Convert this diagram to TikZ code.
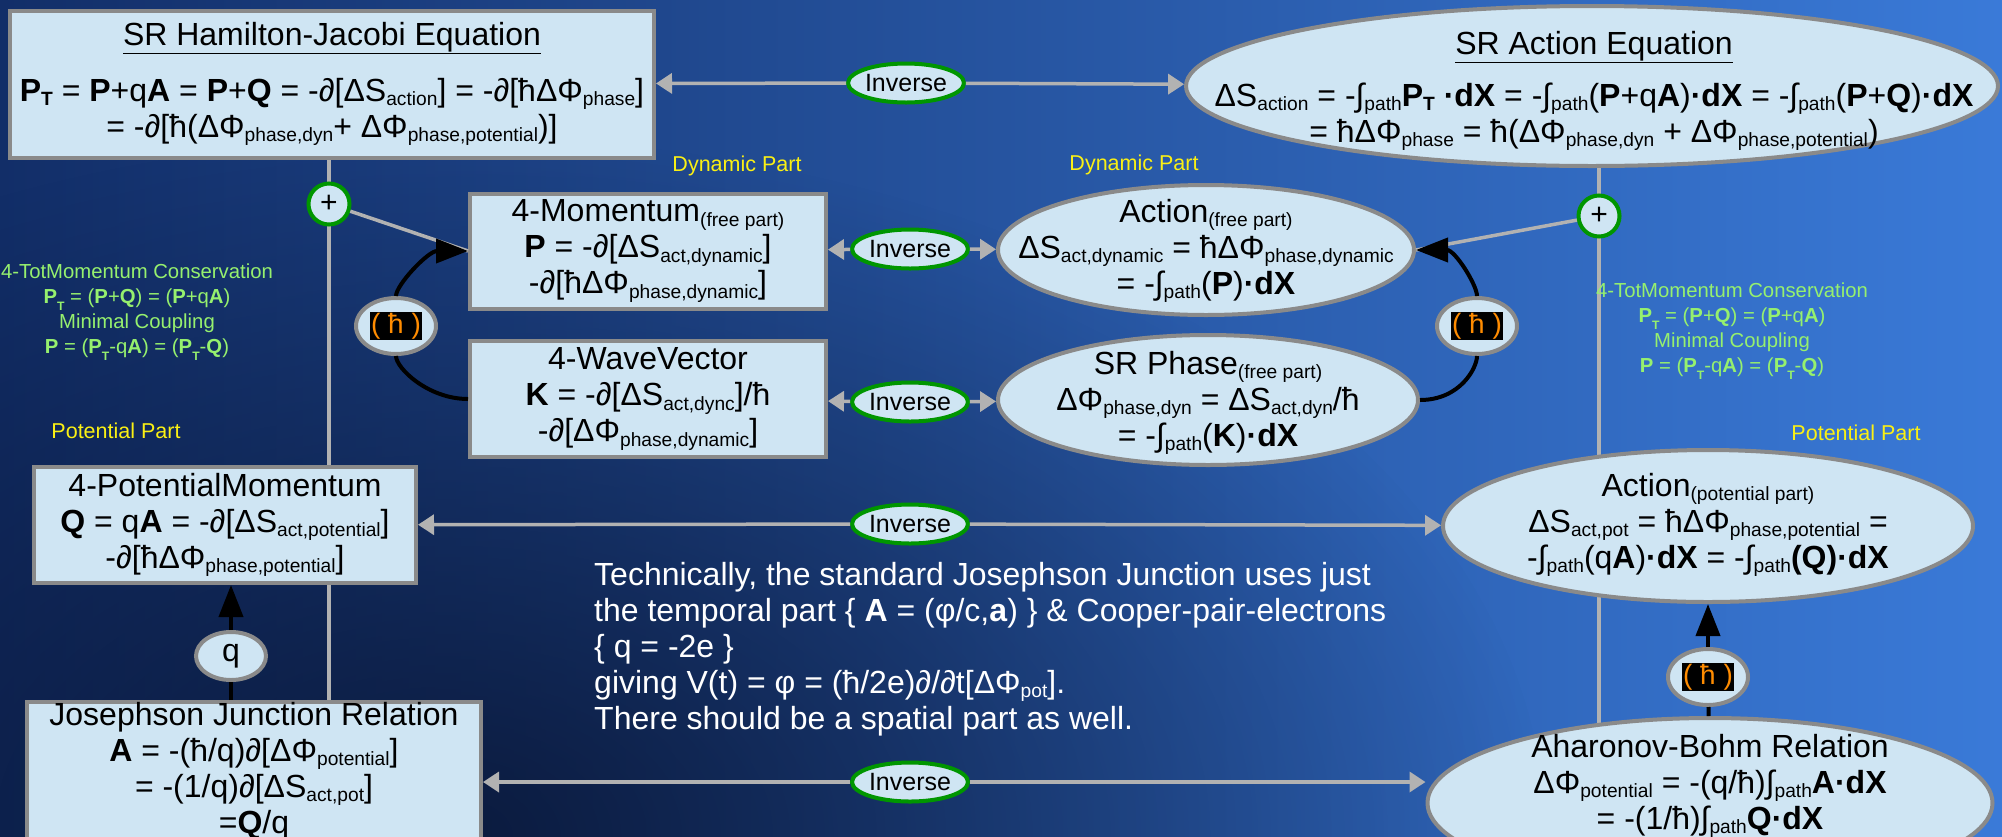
\documentclass[tikz,border=0pt]{standalone}
\usepackage{fontspec}
\usepackage{graphicx}
\setmainfont{Liberation Sans}
\usetikzlibrary{shapes.geometric, arrows.meta, fadings}

\definecolor{boxfill}{RGB}{207,229,243}
\definecolor{boxgray}{RGB}{138,138,138}
\definecolor{linkgray}{RGB}{178,178,178}
\definecolor{invgreen}{RGB}{0,150,0}
\definecolor{partyellow}{RGB}{250,240,20}
\definecolor{lawgreen}{RGB}{150,240,110}
\definecolor{hbarorange}{RGB}{255,140,0}
\definecolor{bgdark}{RGB}{8,20,50}
\definecolor{bgleft}{RGB}{18,46,104}
\definecolor{bgmid}{RGB}{28,72,158}
\definecolor{bgright}{RGB}{58,122,216}

\newcommand{\eqfont}{\fontsize{32}{36}\selectfont}
\newcommand{\sbs}[1]{\raisebox{-0.13em}{\scalebox{0.6}{#1}}}
\newcommand{\lowT}{\raisebox{-0.35em}{\scalebox{0.6}{T}}}
\setlength{\fboxsep}{1pt}

\tikzfading[name=darkspot, inner color=transparent!0, outer color=transparent!100]

\pgfdeclarelayer{bg}
\pgfsetlayers{bg,main}

\tikzset{
  eqbox/.style={draw=boxgray, line width=4pt, fill=boxfill, align=center, inner sep=0pt, font=\eqfont},
  eqoval/.style={ellipse, draw=boxgray, line width=4pt, fill=boxfill, inner sep=0pt},
  eqtext/.style={align=center, inner sep=0pt, font=\eqfont},
  invnode/.style={ellipse, draw=invgreen, line width=4pt, fill=boxfill, inner sep=0pt, minimum width=111pt, minimum height=39pt, font=\fontsize{25}{28}\selectfont},
  plusnode/.style={circle, draw=invgreen, line width=4pt, fill=boxfill, inner sep=0pt, minimum size=41pt, font=\fontsize{30}{30}\selectfont},
  hbarnode/.style={ellipse, draw=boxgray, line width=4pt, fill=boxfill, inner sep=0pt, minimum width=80pt, minimum height=56pt, font=\fontsize{28}{30}\selectfont},
  partlabel/.style={text=partyellow, inner sep=0pt, font=\fontsize{21.5}{24}\selectfont},
  lawtext/.style={text=lawgreen, align=center, inner sep=0pt, font=\fontsize{20.3}{25}\selectfont},
  link/.style={draw=linkgray, line width=3.5pt},
  linkarrow/.style={link, -{Triangle[length=16pt, width=20pt]}},
  hbarline/.style={draw=black, line width=4pt},
  hbararrow/.style={hbarline, -{Triangle[length=32pt, width=24pt]}},
}

\begin{document}
\begin{tikzpicture}[x=1pt, y=-1pt]
    % 画布大小
    \useasboundingbox (0,0) rectangle (2002,836);
    \clip (0,0) rectangle (2002,836);

    % 上排：两个总方程
    \node[eqbox, minimum width=644pt, minimum height=147pt] (hj) at (332, 84)
        {\underline{SR Hamilton-Jacobi Equation}\\[20pt]
         \textbf{P\sbs{T}} = \textbf{P}+q\textbf{A} = \textbf{P}+\textbf{Q} = -∂[ΔS\sbs{action}] = -∂[ħΔΦ\sbs{phase}]\\
         = -∂[ħ(ΔΦ\sbs{phase,dyn}+ ΔΦ\sbs{phase,potential})]};
    \node[eqoval, minimum width=812pt, minimum height=160pt] (sra) at (1592, 86) {};
    \node[eqtext] (sratext) at (1594, 91)
        {\underline{SR Action Equation}\\[16pt]
         ΔS\sbs{action} = -∫\sbs{path}\textbf{P\sbs{T} ·dX} = -∫\sbs{path}(\textbf{P}+q\textbf{A})\textbf{·dX} = -∫\sbs{path}(\textbf{P}+\textbf{Q})\textbf{·dX}\\
         = ħΔΦ\sbs{phase} = ħ(ΔΦ\sbs{phase,dyn} + ΔΦ\sbs{phase,potential})};
    \node[invnode] (inv1) at (906, 83) {Inverse};

    % 动力学部分
    \node[partlabel] (dynL) at (737, 166) {Dynamic Part};
    \node[partlabel] (dynR) at (1134, 165) {Dynamic Part};
    \node[eqbox, minimum width=356pt, minimum height=115pt] (mom) at (648, 251)
        {4-Momentum\sbs{(free part)}\\
         \textbf{P} = -∂[ΔS\sbs{act,dynamic}]\\
         -∂[ħΔΦ\sbs{phase,dynamic}]};
    \node[eqbox, minimum width=356pt, minimum height=116pt] (wav) at (648, 399)
        {4-WaveVector\\
         \textbf{K} = -∂[ΔS\sbs{act,dync}]/ħ\\
         -∂[ΔΦ\sbs{phase,dynamic}]};
    \node[eqoval, minimum width=416pt, minimum height=130pt] (actf) at (1206, 250) {};
    \node[eqtext] (actftext) at (1206, 251)
        {Action\sbs{(free part)}\\
         ΔS\sbs{act,dynamic} = ħΔΦ\sbs{phase,dynamic}\\
         = -∫\sbs{path}(\textbf{P})\textbf{·dX}};
    \node[eqoval, minimum width=420pt, minimum height=130pt] (phs) at (1208, 400) {};
    \node[eqtext] (phstext) at (1208, 403)
        {SR Phase\sbs{(free part)}\\
         ΔΦ\sbs{phase,dyn} = ΔS\sbs{act,dyn}/ħ\\
         = -∫\sbs{path}(\textbf{K})\textbf{·dX}};
    \node[invnode] (inv2) at (910, 249) {Inverse};
    \node[invnode] (inv3) at (910, 402) {Inverse};

    % 加号与 hbar
    \node[plusnode] (plusL) at (329, 204) {+};
    \node[plusnode] (plusR) at (1599, 216) {+};
    \node[hbarnode] (hbarL) at (396, 326) {\colorbox{black}{\color{hbarorange}( ħ )}};
    \node[hbarnode] (hbarR) at (1477, 326) {\colorbox{black}{\color{hbarorange}( ħ )}};

    % 守恒律说明
    \node[lawtext] (lawL) at (137, 312)
        {4-TotMomentum Conservation\\
         \textbf{P\lowT} = (\textbf{P}+\textbf{Q}) = (\textbf{P}+q\textbf{A})\\
         Minimal Coupling\\
         \textbf{P} = (\textbf{P\lowT}-q\textbf{A}) = (\textbf{P\lowT}-\textbf{Q})};
    \node[lawtext] (lawR) at (1732, 331)
        {4-TotMomentum Conservation\\
         \textbf{P\lowT} = (\textbf{P}+\textbf{Q}) = (\textbf{P}+q\textbf{A})\\
         Minimal Coupling\\
         \textbf{P} = (\textbf{P\lowT}-q\textbf{A}) = (\textbf{P\lowT}-\textbf{Q})};

    % 势部分
    \node[partlabel] (potL) at (116, 431) {Potential Part};
    \node[partlabel] (potR) at (1856, 433) {Potential Part};
    \node[eqbox, minimum width=382pt, minimum height=116pt] (potm) at (225, 525)
        {4-PotentialMomentum\\
         \textbf{Q} = q\textbf{A} = -∂[ΔS\sbs{act,potential}]\\
         -∂[ħΔΦ\sbs{phase,potential}]};
    \node[eqoval, minimum width=530pt, minimum height=152pt] (actp) at (1708, 526) {};
    \node[eqtext] (actptext) at (1708, 525)
        {Action\sbs{(potential part)}\\
         ΔS\sbs{act,pot} = ħΔΦ\sbs{phase,potential} =\\
         -∫\sbs{path}(q\textbf{A})\textbf{·dX} = -∫\sbs{path}\textbf{(Q)·dX}};
    \node[invnode] (inv4) at (910, 524) {Inverse};
    \node[eqoval, minimum width=70pt, minimum height=48pt, font=\eqfont] (qnode) at (231, 656) {q};
    \node[hbarnode] (hbarB) at (1708, 677) {\colorbox{black}{\color{hbarorange}( ħ )}};

    % 底排：两个关系式
    \node[eqbox, minimum width=454pt, anchor=north] (jj) at (254, 700)
        {Josephson Junction Relation\\
         \textbf{A} = -(ħ/q)∂[ΔΦ\sbs{potential}]\\
         = -(1/q)∂[ΔS\sbs{act,pot}]\\
         =\textbf{Q}/q};
    \node[eqoval, minimum width=565pt, minimum height=170pt] (ab) at (1710, 803) {};
    \node[eqtext] (abtext) at (1710, 786)
        {Aharonov-Bohm Relation\\
         ΔΦ\sbs{potential} = -(q/ħ)∫\sbs{path}\textbf{A·dX}\\
         = -(1/ħ)∫\sbs{path}\textbf{Q·dX}};
    \node[invnode] (inv5) at (910, 782) {Inverse};

    % 说明文字
    \node[eqtext, text=white, align=left, anchor=north west] (note) at (594, 562)
        {Technically, the standard Josephson Junction uses just\\
         the temporal part \{ \textbf{A} = (φ/c,\textbf{a}) \} \& Cooper-pair-electrons\\
         \{ q = -2e \}\\
         giving V(t) = φ = (ħ/2e)∂/∂t[ΔΦ\sbs{pot}].\\
         There should be a spatial part as well.};

    % 背景与竖线
    \begin{pgfonlayer}{bg}
        \shade[left color=bgleft, middle color=bgmid, right color=bgright] (0,0) rectangle (2002,836);
        \fill[bgdark, path fading=darkspot, fill opacity=0.85] (450,836) ellipse [x radius=1100, y radius=700];
        \draw[link] (plusL |- hj.center) -- (plusL |- jj.center);
        \draw[link] (plusR |- sra.center) -- (plusR |- ab.center);
    \end{pgfonlayer}

    % 灰色连线
    \draw[link] (plusL) -- (mom.west);
    \draw[link] (plusR) -- (actf.east);
    \draw[linkarrow] (inv1) -- (hj);
    \draw[linkarrow] (inv1) -- (sra);
    \draw[linkarrow] (inv2) -- (mom);
    \draw[linkarrow] (inv2) -- (actf);
    \draw[linkarrow] (inv3) -- (wav);
    \draw[linkarrow] (inv3) -- (phs);
    \draw[linkarrow] (inv4) -- (potm);
    \draw[linkarrow] (inv4) -- (actp);
    \draw[linkarrow] (inv5) -- (inv5 -| jj.east);
    \draw[linkarrow] (inv5) -- (inv5 -| ab.west);

    % 黑色箭头
    \draw[hbarline] (wav.west) .. controls (428,399) and (396,368) .. (hbarL);
    \draw[hbararrow] (hbarL) .. controls (396,285) and (428,251) .. (mom.west);
    \draw[hbarline] (phs.east) .. controls (1460,400) and (1477,368) .. (hbarR);
    \draw[hbararrow] (hbarR) .. controls (1477,285) and (1455,250) .. (actf.east);
    \draw[hbarline] (ab) -- (hbarB);
    \draw[hbararrow] (hbarB) -- (actp);
    \draw[hbarline] (qnode |- jj.north) -- (qnode);
    \draw[hbararrow] (qnode) -- (qnode |- potm.south);
\end{tikzpicture}
\end{document}
